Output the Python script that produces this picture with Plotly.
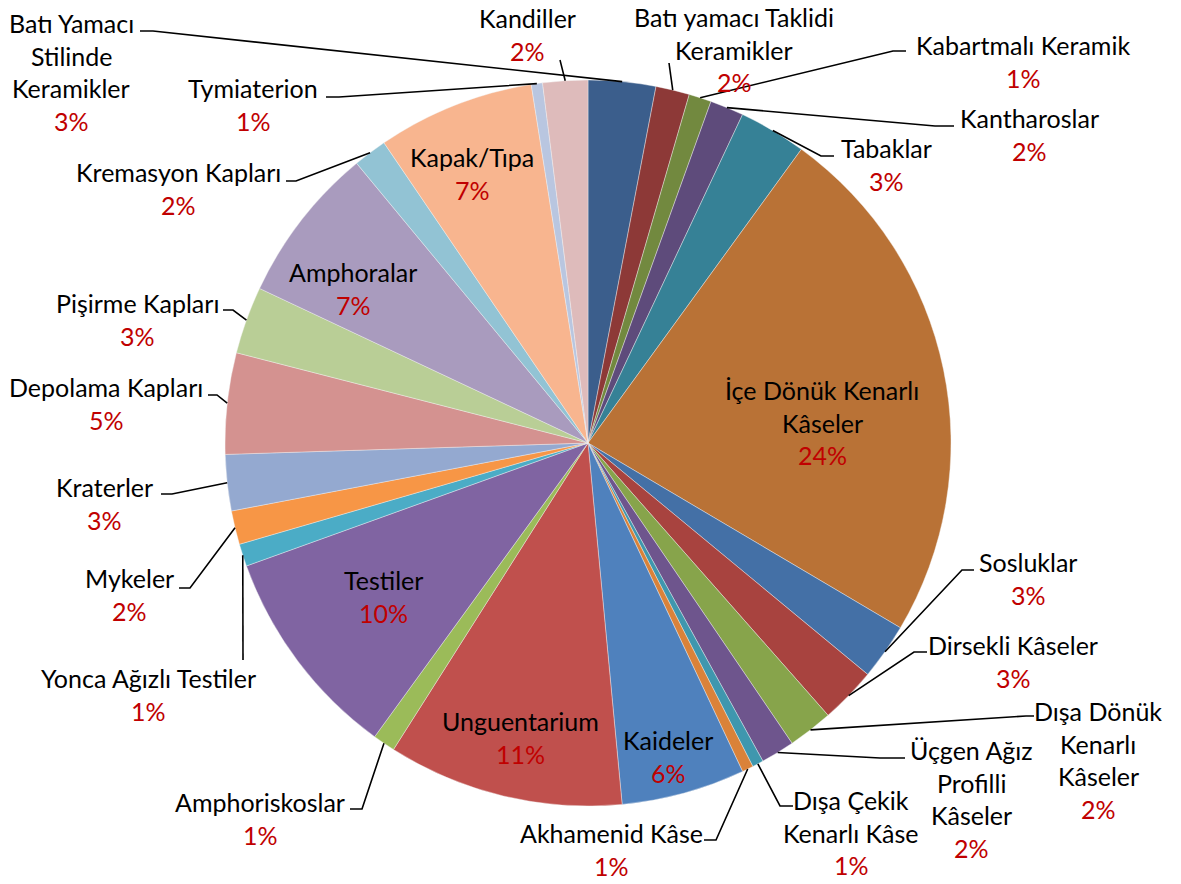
import math
import plotly.graph_objects as go

# Sherd counts per vessel type, clockwise from 12 o'clock
categories = [
    "Batı Yamacı Stilinde Keramikler", "Batı yamacı Taklidi Keramikler",
    "Kabartmalı Keramik", "Kantharoslar", "Tabaklar",
    "İçe Dönük Kenarlı Kâseler", "Sosluklar", "Dirsekli Kâseler",
    "Dışa Dönük Kenarlı Kâseler", "Üçgen Ağız Profilli Kâseler",
    "Dışa Çekik Kenarlı Kâse", "Akhamenid Kâse", "Kaideler", "Unguentarium",
    "Amphoriskoslar", "Testiler", "Yonca Ağızlı Testiler", "Mykeler",
    "Kraterler", "Depolama Kapları", "Pişirme Kapları", "Amphoralar",
    "Kremasyon Kapları", "Kapak/Tıpa", "Tymiaterion", "Kandiller",
]
counts = [6, 3, 2, 3, 6, 47, 5, 5, 4, 3, 1, 1, 11, 21, 2, 19, 2, 3, 5, 9,
          6, 14, 3, 14, 1, 4]

# How each category name wraps in its label
label_lines = [
    ["Batı Yamacı", "Stilinde", "Keramikler"], ["Batı yamacı Taklidi", "Keramikler"],
    ["Kabartmalı Keramik"], ["Kantharoslar"], ["Tabaklar"],
    ["İçe Dönük Kenarlı", "Kâseler"], ["Sosluklar"], ["Dirsekli Kâseler"],
    ["Dışa Dönük", "Kenarlı", "Kâseler"], ["Üçgen Ağız", "Profilli", "Kâseler"],
    ["Dışa Çekik", "Kenarlı Kâse"], ["Akhamenid Kâse"], ["Kaideler"], ["Unguentarium"],
    ["Amphoriskoslar"], ["Testiler"], ["Yonca Ağızlı Testiler"], ["Mykeler"],
    ["Kraterler"], ["Depolama Kapları"], ["Pişirme Kapları"], ["Amphoralar"],
    ["Kremasyon Kapları"], ["Kapak/Tıpa"], ["Tymiaterion"], ["Kandiller"],
]

colors = [
    "#3B5E8C", "#8D3937", "#72893F", "#5E4B7B", "#368196", "#B97236",
    "#4470A6", "#A8433F", "#87A44B", "#6E558D", "#3F97AE", "#DA8239",
    "#4F81BD", "#C0504D", "#9BBB59", "#8064A2", "#4BACC6", "#F79646",
    "#94A9D0", "#D49290", "#B9CE96", "#A99BBE", "#92C3D4", "#F8B58F",
    "#B9C6E0", "#DEBBBB",
]

# ---- layout geometry (pixels, y downward) ----
W, H = 1181, 884
CX, CY, R = 588, 443, 363
LINE_H = 32.7
FONT = "Lato"
FS = 25

# label placement: centre x, y of first text line, and leader-line points
# leading from the label toward the slice (rim point is appended from data)
label_layout = [
    dict(x=71, y=23, lead=[(140, 31), (153, 31)]),
    dict(x=734, y=17, lead=[(669, 63)]),
    dict(x=1023, y=45, lead=[(906, 51), (893, 51)]),
    dict(x=1029, y=118, lead=[(954, 126), (935, 126)]),
    dict(x=886, y=148, lead=[(834, 156), (821, 156)]),
    dict(x=822, y=390, lead=None),
    dict(x=1028, y=562, lead=[(974, 570), (962, 570)]),
    dict(x=1013, y=645, lead=[(927, 652), (914, 652)]),
    dict(x=1098, y=711, lead=[(1034, 716), (1026, 716)]),
    dict(x=971, y=750, lead=[(905, 758), (880, 758)]),
    dict(x=851, y=800, lead=[(793, 806), (780, 806)]),
    dict(x=611, y=833, lead=[(704, 840), (716, 840)]),
    dict(x=668, y=740, lead=None),
    dict(x=520, y=721, lead=None),
    dict(x=260, y=802, lead=[(350, 809), (362, 809)]),
    dict(x=383, y=580, lead=None),
    dict(x=148, y=678, lead=[(243, 660)]),
    dict(x=129, y=578, lead=[(179, 588), (190, 588)]),
    dict(x=104, y=487, lead=[(161, 494), (172, 494)]),
    dict(x=106, y=387, lead=[(208, 395), (217, 395)]),
    dict(x=137, y=303, lead=[(223, 310), (233, 310)]),
    dict(x=353, y=272, lead=None),
    dict(x=178, y=172, lead=[(286, 181), (296, 181)]),
    dict(x=472, y=157, lead=None),
    dict(x=253, y=88, lead=[(326, 97), (339, 97)]),
    dict(x=527, y=18, lead=[(560, 60)]),
]


def px(x):
    return x / W


def py(y):
    return 1 - y / H


total = sum(counts)
percents = [math.floor(c * 100 / total + 0.5) for c in counts]

fig = go.Figure(
    go.Pie(
        labels=categories,
        values=counts,
        sort=False,
        direction="clockwise",
        rotation=0,
        marker=dict(colors=colors, line=dict(color="#F4F4F4", width=0.4)),
        textinfo="none",
        hoverinfo="label+percent",
        domain=dict(x=[(CX - R) / W, (CX + R) / W],
                    y=[(H - CY - R) / H, (H - CY + R) / H]),
        showlegend=False,
    )
)

annotations = []
shapes = []
cum = 0
for cat, c, lines, pct, lay in zip(categories, counts, label_lines, percents, label_layout):
    mid = (cum + c / 2) / total * 2 * math.pi
    cum += c
    rim = (CX + R * math.sin(mid), CY - R * math.cos(mid))
    texts = [(t, "black") for t in lines] + [(f"{pct}%", "#C00000")]
    for i, (t, col) in enumerate(texts):
        annotations.append(dict(
            x=px(lay["x"]), y=py(lay["y"] + i * LINE_H), xref="paper", yref="paper",
            text=t, showarrow=False, xanchor="center", yanchor="middle",
            font=dict(family=FONT, size=FS, color=col),
        ))
    if lay["lead"]:
        pts = lay["lead"] + [rim]
        path = "M " + " L ".join(f"{px(a):.5f},{py(b):.5f}" for a, b in pts)
        shapes.append(dict(type="path", path=path, xref="paper", yref="paper",
                           line=dict(color="black", width=1.6), layer="above"))

fig.update_layout(
    width=W, height=H,
    margin=dict(l=0, r=0, t=0, b=0),
    paper_bgcolor="white", plot_bgcolor="white",
    annotations=annotations, shapes=shapes,
    showlegend=False,
)

fig.write_html("out.html")
